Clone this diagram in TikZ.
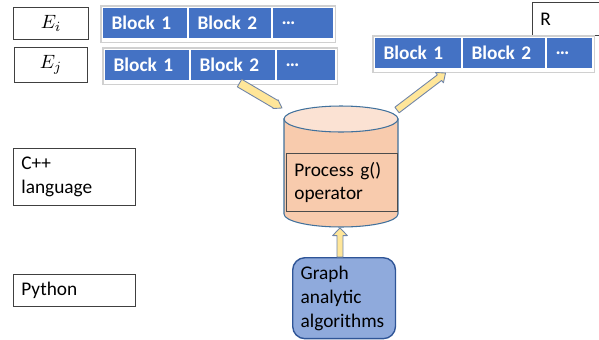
\documentclass[tikz,border=0pt]{standalone}
\usepackage{fontspec}
\setmainfont{Carlito}
\usetikzlibrary{positioning,calc}
\definecolor{cBlk}{HTML}{4472C4}
\definecolor{cFrm}{HTML}{D0D0D0}
\definecolor{cDbBody}{HTML}{F8CBAD}
\definecolor{cDbTop}{HTML}{FBE2D3}
\definecolor{cDbEdge}{HTML}{41719C}
\definecolor{cAlg}{HTML}{8FAADC}
\definecolor{cAlgEdge}{HTML}{2F5597}
\definecolor{cArr}{HTML}{FFE699}
\definecolor{cArrEdge}{HTML}{6F84A8}
% block arrow: shaft half width, head half width, from, to
\newcommand{\fatarrow}[4]{%
  \draw[fat] let \p1=($(#4)-(#3)$), \n1={atan2(\y1,\x1)}, \n2={veclen(\x1,\y1)} in
    [shift={(#3)},rotate=\n1] (0pt,-#1) -- (\n2-4.3pt,-#1) -- (\n2-4.3pt,-#2) -- (\n2,0pt)
    -- (\n2-4.3pt,#2) -- (\n2-4.3pt,#1) -- (0pt,#1) -- cycle;}

\begin{document}
\begin{tikzpicture}[x=0.02cm,y=0.02cm,font=\fontsize{11}{13.6}\selectfont,
  lbl/.style={draw=black!75,line width=0.5pt,anchor=north west,inner sep=0pt},
  txt/.style={lbl,align=left,inner xsep=4.5pt},
  cell/.style={fill=cBlk,draw=white,line width=0.6pt,text=white,font=\fontsize{11}{13.6}\selectfont\bfseries,
    minimum height=0.62cm,inner xsep=0.18cm,inner ysep=0pt,align=left},
  frm/.style={draw=cFrm,line width=0.6pt},
  fat/.style={fill=cArr,draw=cArrEdge,line width=0.5pt,line join=round}]
\useasboundingbox (0,0) rectangle (599,-339);
% ---------- edge lists ----------
\node[lbl,minimum width=1.5cm,minimum height=0.64cm] (Ei) at (13,-7) {$E_i$};
\node[lbl,minimum width=1.46cm,minimum height=0.7cm] (Ej) at (14,-47) {$E_j$};
\node[cell,anchor=north west,text width=1.34cm] (i1) at (102,-7) {Block 1};
\node[cell,right=0pt of i1,text width=1.30cm] (i2) {Block 2};
\node[cell,right=0pt of i2,text width=0.86cm] (i3) {…};
\draw[frm] ($(i1.north west)+(-1,1)$) rectangle ($(i3.south east)+(1,-3)$);
\node[cell,anchor=north west,text width=1.34cm] (j1) at (104,-49) {Block 1};
\node[cell,right=0pt of j1,text width=1.34cm] (j2) {Block 2};
\node[cell,right=0pt of j2,text width=0.82cm] (j3) {…};
\draw[frm] ($(j1.north west)+(-1,1)$) rectangle ($(j3.south east)+(1,-3)$);
% ---------- result ----------
\node[txt,text width=1.04cm,minimum height=0.66cm] (R) at (532,-2) {R};
\node[cell,anchor=north west,text width=1.38cm] (r1) at (374,-37) {Block 1};
\node[cell,right=0pt of r1,text width=1.30cm] (r2) {Block 2};
\node[cell,right=0pt of r2,text width=0.56cm] (r3) {…};
\draw[frm] ($(r1.north west)+(-1,1)$) rectangle ($(r3.south east)+(1,-3)$);
% ---------- languages ----------
\node[txt,text width=2.12cm,minimum height=1.14cm] (cpp) at (13,-148) {C++\\language};
\node[txt,text width=2.12cm,minimum height=0.64cm] (py) at (13,-274) {Python};
% ---------- store ----------
\coordinate (dbT) at (341,-119);
\coordinate (dbB) at (341,-214);
\filldraw[fill=cDbBody,draw=cDbEdge,line width=0.6pt] ($(dbT)+(-57,0)$) -- ($(dbB)+(-57,0)$)
  arc[start angle=180,end angle=360,x radius=57,y radius=13] -- ($(dbT)+(57,0)$) -- cycle;
\filldraw[fill=cDbTop,draw=cDbEdge,line width=0.6pt] (dbT) ellipse[x radius=57,y radius=13];
\node[txt,fill=cDbBody,draw=black!70,text width=1.90cm,minimum height=1.16cm] (proc) at (286,-153) {Process g()\\operator};
\node[txt,fill=cAlg,draw=cAlgEdge,line width=0.8pt,rounded corners=7pt,text width=1.74cm,minimum height=1.62cm] (alg) at (292,-257) {Graph\\analytic\\algorithms};
% ---------- arrows ----------
\coordinate (dbNW) at (282,-108);
\coordinate (dbNE) at (397,-110);
\coordinate (dbS) at (340,-228);
\coordinate (jOut) at ($(j2.south)+(6.5,-2)$);
\coordinate (rIn) at ($(r1.south)+(27.5,-4)$);
\coordinate (algN) at (alg.north -| dbS);
\fatarrow{2.5pt}{2.9pt}{jOut}{dbNW}
\fatarrow{2pt}{3.7pt}{dbNE}{rIn}
\fatarrow{1.7pt}{4.2pt}{algN}{dbS}
\end{tikzpicture}
\end{document}
